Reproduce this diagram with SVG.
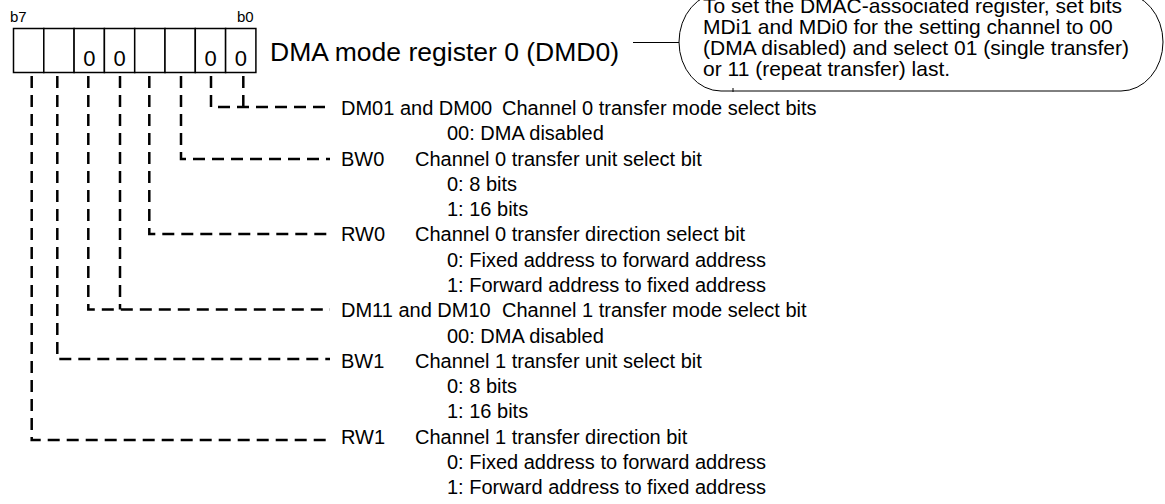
<svg xmlns="http://www.w3.org/2000/svg" width="1165" height="504" viewBox="0 0 1165 504">
<style>
text{font-family:"Liberation Sans",Arial,sans-serif;fill:#000}
.lbl{font-size:20px}
.bal{font-size:21px}
.cell{fill:#fff;stroke:#000;stroke-width:1.5}
.dash{fill:none;stroke:#000;stroke-width:2.5;stroke-dasharray:12 7}
.thin{fill:none;stroke:#000;stroke-width:1}
</style>
<rect width="1165" height="504" fill="#fff"/>
<g id="register">
<text x="10" y="22" style="font-size:15px">b7</text>
<text x="237" y="22" style="font-size:15px">b0</text>
<rect class="cell" x="13.5" y="28.5" width="30.3" height="44"/>
<rect class="cell" x="43.8" y="28.5" width="30.3" height="44"/>
<rect class="cell" x="74.1" y="28.5" width="30.3" height="44"/>
<rect class="cell" x="104.4" y="28.5" width="30.3" height="44"/>
<rect class="cell" x="134.7" y="28.5" width="30.3" height="44"/>
<rect class="cell" x="165" y="28.5" width="30.3" height="44"/>
<rect class="cell" x="195.3" y="28.5" width="30.3" height="44"/>
<rect class="cell" x="225.6" y="28.5" width="30.3" height="44"/>
<g style="font-size:22px" text-anchor="middle">
<text x="89.3" y="66">0</text>
<text x="119.6" y="66">0</text>
<text x="210.5" y="66">0</text>
<text x="240.8" y="66">0</text>
</g>
<text x="270" y="61" style="font-size:26.5px">DMA mode register 0 (DMD0)</text>
</g>
<g id="note">
<rect class="thin" x="679" y="-7" width="484" height="98" rx="42" ry="49"/>
<line class="thin" x1="733" y1="88" x2="733" y2="92"/>
<text class="bal" x="703" y="13">To set the DMAC-associated register, set bits</text>
<text class="bal" x="703" y="34">MDi1 and MDi0 for the setting channel to 00</text>
<text class="bal" x="703" y="55">(DMA disabled) and select 01 (single transfer)</text>
<text class="bal" x="703" y="76">or 11 (repeat transfer) last.</text>
</g>
<g id="connectors">
<line class="thin" x1="633" y1="42.5" x2="679" y2="42.5"/>
<path class="dash" d="M211 76V107H330"/>
<path class="dash" d="M243.3 76V107"/>
<path class="dash" d="M181 76V159H330"/>
<path class="dash" d="M149.3 76V234H330"/>
<path class="dash" d="M88.3 76V309.5H330"/>
<path class="dash" d="M120 76V309.5"/>
<path class="dash" d="M57.3 76V359H330"/>
<path class="dash" d="M31.7 76V440H330"/>
</g>
<g id="dm0" class="lbl">
<text x="341" y="115">DM01 and DM00</text>
<text x="502" y="115">Channel 0 transfer mode select bits</text>
<text x="447" y="140.3">00: DMA disabled</text>
</g>
<g id="bw0" class="lbl">
<text x="341" y="165.5">BW0</text>
<text x="415" y="165.5">Channel 0 transfer unit select bit</text>
<text x="447" y="190.8">0: 8 bits</text>
<text x="447" y="216.1">1: 16 bits</text>
</g>
<g id="rw0" class="lbl">
<text x="341" y="241.4">RW0</text>
<text x="415" y="241.4">Channel 0 transfer direction select bit</text>
<text x="447" y="266.6">0: Fixed address to forward address</text>
<text x="447" y="291.9">1: Forward address to fixed address</text>
</g>
<g id="dm1" class="lbl">
<text x="341" y="317.2">DM11 and DM10</text>
<text x="502" y="317.2">Channel 1 transfer mode select bit</text>
<text x="447" y="342.5">00: DMA disabled</text>
</g>
<g id="bw1" class="lbl">
<text x="341" y="367.7">BW1</text>
<text x="415" y="367.7">Channel 1 transfer unit select bit</text>
<text x="447" y="393">0: 8 bits</text>
<text x="447" y="418.3">1: 16 bits</text>
</g>
<g id="rw1" class="lbl">
<text x="341" y="443.6">RW1</text>
<text x="415" y="443.6">Channel 1 transfer direction bit</text>
<text x="447" y="468.8">0: Fixed address to forward address</text>
<text x="447" y="494.1">1: Forward address to fixed address</text>
</g>
</svg>
